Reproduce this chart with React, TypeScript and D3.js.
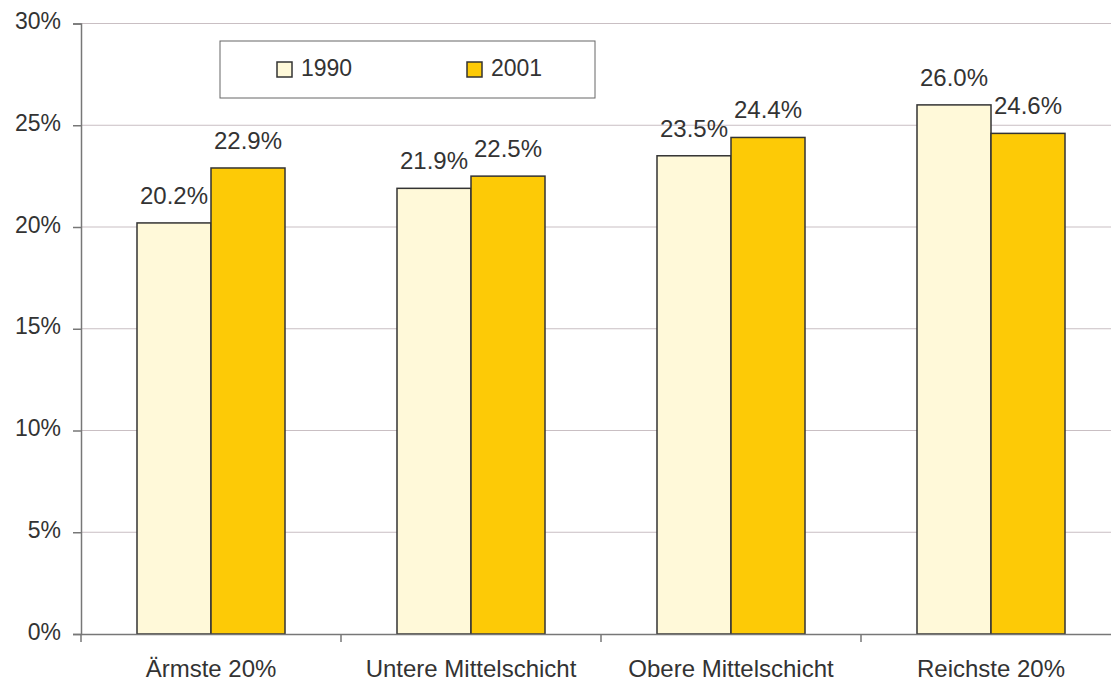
import { useEffect, useRef } from "react"
import * as d3 from "d3"

const categories = ["Ärmste 20%", "Untere Mittelschicht", "Obere Mittelschicht", "Reichste 20%"]
const series = ["1990", "2001"]
const values1990 = [20.2, 21.9, 23.5, 26.0]
const values2001 = [22.9, 22.5, 24.4, 24.6]
const yTicks = [0, 5, 10, 15, 20, 25, 30]
const colors = ["#fff9d9", "#fdca06"]

export default function App() {
    const ref = useRef<SVGSVGElement>(null)
    const width = 1111
    const height = 683

    useEffect(() => {
        const svg = d3.select(ref.current)
        svg.selectAll("*").remove()
        const font = "'Liberation Sans', Arial, sans-serif"
        const textColor = "#333"

        const x0 = d3.scaleBand().domain(categories).range([81, 1121])
        const x1 = d3.scaleBand().domain(series).range([0, 148])
        const y = d3.scaleLinear().domain([0, 30]).range([634, 23.5])

        // gridlines
        svg.append("g")
            .selectAll("line")
            .data(yTicks.slice(1))
            .enter().append("line")
            .attr("x1", 81).attr("x2", width)
            .attr("y1", d => y(d)).attr("y2", d => y(d))
            .attr("stroke", "#c9bfc3").attr("stroke-width", 1)

        // bars
        const rows = categories.map((c, i) => ({ cat: c, vals: [values1990[i], values2001[i]] }))
        const groups = svg.append("g").selectAll("g")
            .data(rows)
            .enter().append("g")
            .attr("transform", d => `translate(${x0(d.cat)! + x0.bandwidth() / 2 - 74},0)`)

        groups.selectAll("rect")
            .data(d => d.vals.map((v, j) => ({ s: series[j], v, j })))
            .enter().append("rect")
            .attr("x", d => x1(d.s)!)
            .attr("width", x1.bandwidth())
            .attr("y", d => y(d.v))
            .attr("height", d => y(0) - y(d.v))
            .attr("fill", d => colors[d.j])
            .attr("stroke", "#333").attr("stroke-width", 1.5)

        groups.selectAll("text")
            .data(d => d.vals.map((v, j) => ({ s: series[j], v })))
            .enter().append("text")
            .attr("x", d => x1(d.s)! + x1.bandwidth() / 2)
            .attr("y", d => y(d.v) - 19)
            .attr("text-anchor", "middle")
            .attr("font-family", font).attr("font-size", 24)
            .attr("fill", textColor)
            .text(d => d.v.toFixed(1) + "%")

        // y axis
        const yAxis = svg.append("g")
            .attr("transform", "translate(81,0)")
            .call(d3.axisLeft(y).tickValues(yTicks).tickSize(8).tickPadding(12).tickFormat(d => d + "%"))
        yAxis.select(".domain").attr("stroke", "#777").attr("stroke-width", 1.5)
        yAxis.selectAll(".tick line").attr("stroke", "#777").attr("stroke-width", 1.5)
        yAxis.selectAll("text").attr("font-family", font).attr("font-size", 23)
            .attr("fill", textColor).attr("dy", "0.22em")

        // x axis
        const xAxis = svg.append("g")
            .attr("transform", "translate(0,634)")
            .call(d3.axisBottom(x0).tickSize(0).tickPadding(0))
        xAxis.select(".domain").attr("stroke", "#777").attr("stroke-width", 1.5)
        xAxis.selectAll("text").attr("font-family", font).attr("font-size", 24)
            .attr("fill", textColor).attr("y", 43).attr("dy", null)
        svg.append("g").selectAll("line")
            .data(d3.range(categories.length + 1))
            .enter().append("line")
            .attr("x1", i => 81 + i * x0.step()).attr("x2", i => 81 + i * x0.step())
            .attr("y1", 634).attr("y2", 642)
            .attr("stroke", "#777").attr("stroke-width", 1.5)

        // legend
        const legend = svg.append("g")
        legend.append("rect")
            .attr("x", 220).attr("y", 41).attr("width", 375).attr("height", 57)
            .attr("fill", "white").attr("stroke", "#666").attr("stroke-width", 1)
        const lx = [277, 467]
        series.forEach((s, i) => {
            legend.append("rect")
                .attr("x", lx[i]).attr("y", 62).attr("width", 15).attr("height", 15)
                .attr("fill", colors[i]).attr("stroke", "#333").attr("stroke-width", 1.5)
            legend.append("text")
                .attr("x", lx[i] + 24).attr("y", 76)
                .attr("font-family", font).attr("font-size", 23)
                .attr("fill", textColor)
                .text(s)
        })
    }, [])

    return (
        <svg ref={ref} width={width} height={height}
            style={{ position: "absolute", left: 0, top: 0, background: "white" }} />
    )
}
